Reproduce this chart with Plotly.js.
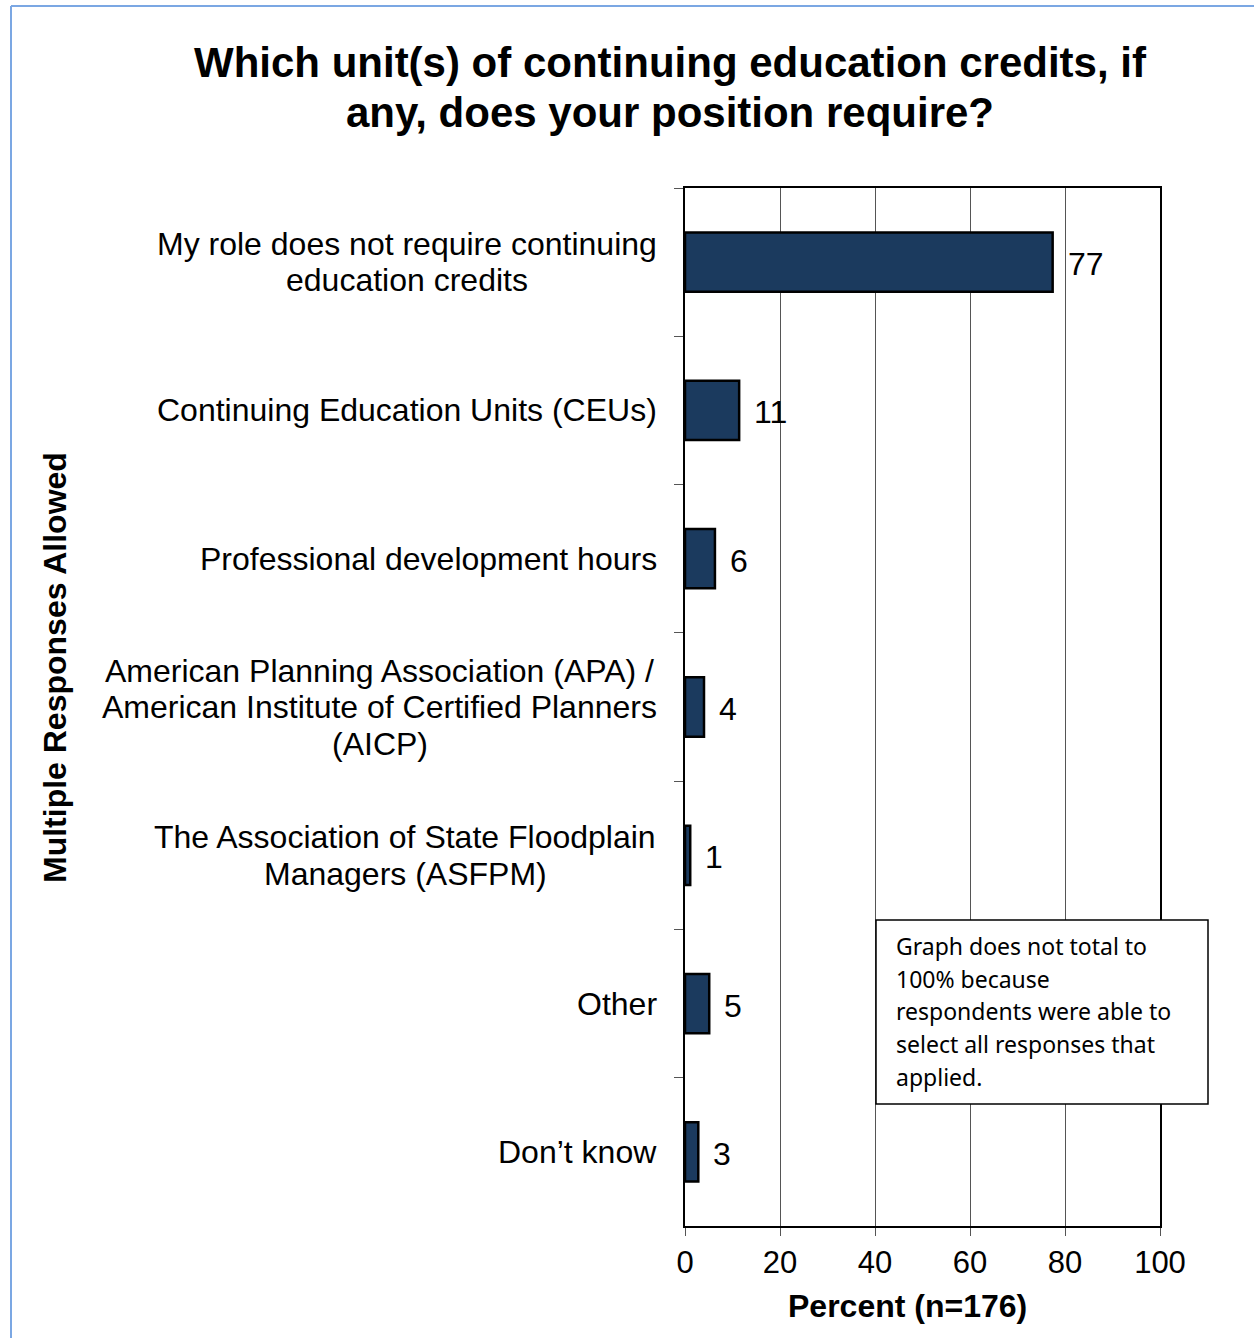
<!DOCTYPE html>
<html>
<head>
<meta charset="utf-8">
<script src="https://cdn.plot.ly/plotly-3.0.1.min.js"></script>
<style>html,body{margin:0;padding:0;background:#fff;}#chart{width:1254px;height:1338px;}</style>
</head>
<body>
<div id="chart"></div>
<script>
// ---- data ----
const categories = [
  "My role does not require continuing<br>education credits",
  "Continuing Education Units (CEUs)",
  "Professional development hours",
  "American Planning Association (APA) /<br>American Institute of Certified Planners<br>(AICP)",
  "The Association of State Floodplain<br>Managers (ASFPM)",
  "Other",
  "Don\u2019t know"
];
const percentValues = [77.4, 11.4, 6.3, 4.0, 1.1, 5.1, 2.8];
const valueLabels = ["77", "11", "6", "4", "1", "5", "3"];
const xTickValues = [0, 20, 40, 60, 80, 100];
const titleLines = [
  "Which unit(s) of continuing education credits, if",
  "any, does your position require?"
];
const xTitleText = "Percent (n=176)";
const yTitleText = "Multiple Responses Allowed";
const noteLines = [
  "Graph does not total to",
  "100% because",
  "respondents were able to",
  "select all responses that",
  "applied."
];

// ---- layout helpers ----
const W = 1254, H = 1338;
const L = 685, R = 1160, T = 188, B = 1226;
const px2x = p => (p - L) / (R - L);
const px2y = p => (B - p) / (B - T);
const FONT = "Liberation Sans, Arial, sans-serif";
const LINE_GAP = 36.5;
const CAT_SIZE = 32;

const ctx = document.createElement('canvas').getContext('2d');
ctx.font = CAT_SIZE + "px 'Liberation Sans', Arial, sans-serif";
const textW = s => ctx.measureText(s.replace(/&[^;]+;/g, 'x')).width;

const annotations = [];
// title lines
titleLines.forEach((t, i) => {
  annotations.push({
    xref: 'paper', yref: 'paper', x: px2x(670), y: px2y(63 + i * 49), xanchor: 'center', yanchor: 'middle',
    text: t, showarrow: false,
    font: {family: FONT, size: 42, color: '#000', weight: 'bold'}
  });
});
// category labels: lines centered on each other, block right edge at L-28
const labelRight = L - 28;
categories.forEach((c) => {
  const lines = c.split('<br>');
  const n = lines.length;
  const maxW = Math.max(...lines.map(textW));
  const cx = labelRight - maxW / 2;
  lines.forEach((ln, j) => {
    annotations.push({
      xref: 'paper', yref: 'y', x: px2x(cx), y: c, xanchor: 'center', yanchor: 'middle',
      yshift: -(j - (n - 1) / 2) * LINE_GAP,
      text: ln, showarrow: false,
      font: {family: FONT, size: CAT_SIZE, color: '#000'}
    });
  });
});
// value labels
categories.forEach((c, i) => {
  annotations.push({
    xref: 'x', yref: 'y', x: percentValues[i], y: c, xanchor: 'left', yanchor: 'middle',
    xshift: 13, yshift: -2, text: valueLabels[i], showarrow: false,
    font: {family: FONT, size: 32, color: '#000'}
  });
});
// y title
annotations.push({
  xref: 'paper', yref: 'paper', x: px2x(55), y: px2y(668), xanchor: 'center', yanchor: 'middle',
  text: yTitleText, textangle: -90, showarrow: false,
  font: {family: FONT, size: 32, color: '#000', weight: 'bold'}
});
// x title
annotations.push({
  xref: 'paper', yref: 'paper', x: px2x(907), y: px2y(1306), xanchor: 'center', yanchor: 'middle',
  text: xTitleText, showarrow: false,
  font: {family: FONT, size: 32, color: '#000', weight: 'bold'}
});
// note lines
noteLines.forEach((t, i) => {
  annotations.push({
    xref: 'paper', yref: 'paper', x: px2x(894), y: px2y(946 + i * 32.7), xanchor: 'left', yanchor: 'middle',
    text: t, showarrow: false,
    font: {family: "Noto Sans, Open Sans, sans-serif", size: 23, color: '#000'}
  });
});

const shapes = [
  // note box
  {type: 'rect', xref: 'paper', yref: 'paper', x0: px2x(876), x1: px2x(1208), y0: px2y(1104), y1: px2y(920),
   line: {color: '#000', width: 1.5}, fillcolor: 'rgba(255,255,255,1)', layer: 'above'},
  // outer blue frame
  {type: 'line', xref: 'paper', yref: 'paper', x0: px2x(11), x1: px2x(11), y0: px2y(6), y1: px2y(1345),
   line: {color: '#7ba7e3', width: 2}},
  {type: 'line', xref: 'paper', yref: 'paper', x0: px2x(11), x1: px2x(1260), y0: px2y(6), y1: px2y(6),
   line: {color: '#7ba7e3', width: 2}}
];

const trace = {
  type: 'bar', orientation: 'h',
  x: percentValues, y: categories,
  width: 0.4,
  marker: {color: '#1b3a5e', line: {color: '#000', width: 2.5}},
  hoverinfo: 'none'
};

const layout = {
  width: W, height: H,
  margin: {l: L, r: W - R, t: T, b: H - B, pad: 0},
  paper_bgcolor: '#fff', plot_bgcolor: '#fff',
  showlegend: false,
  font: {family: FONT, color: '#000'},
  xaxis: {
    range: [0, 100], tickvals: xTickValues, ticktext: xTickValues.map(String),
    showgrid: true, gridcolor: '#555', gridwidth: 1, zeroline: false,
    showline: true, linecolor: '#000', linewidth: 2, mirror: true,
    ticks: 'outside', ticklen: 8, tickcolor: '#555', tickwidth: 1,
    tickfont: {family: FONT, size: 31, color: '#000'},
    fixedrange: true
  },
  yaxis: {
    type: 'category', autorange: 'reversed', categoryorder: 'array', categoryarray: categories,
    showticklabels: false, showgrid: false, zeroline: false,
    showline: true, linecolor: '#000', linewidth: 2, mirror: true,
    ticks: 'outside', tickson: 'boundaries', ticklen: 9, tickcolor: '#555', tickwidth: 1,
    fixedrange: true
  },
  annotations: annotations,
  shapes: shapes
};

Plotly.newPlot('chart', [trace], layout, {displayModeBar: false, staticPlot: true});
</script>
</body>
</html>
